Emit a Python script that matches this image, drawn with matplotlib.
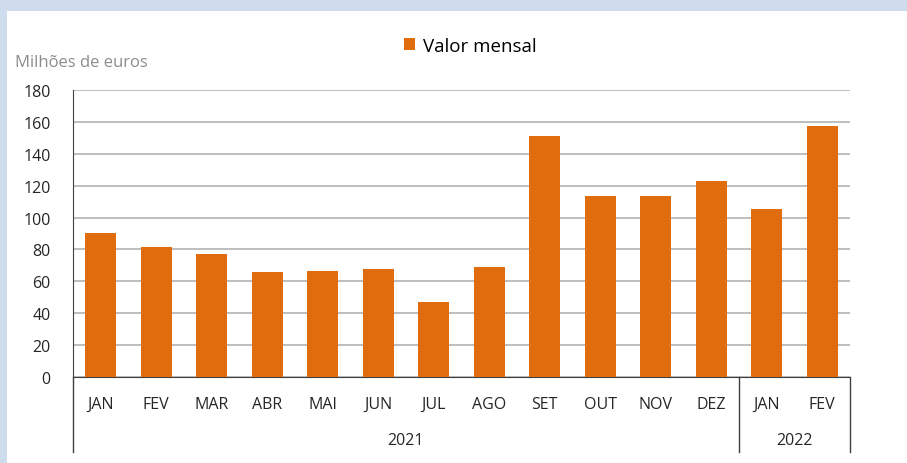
import numpy as np
import matplotlib
matplotlib.use("Agg")
import matplotlib.pyplot as plt
from matplotlib.patches import Rectangle

plt.rcParams["font.family"] = ["Open Sans", "DejaVu Sans"]

# -----------------------------------------------------------------------
# Data
# -----------------------------------------------------------------------
months = ["JAN", "FEV", "MAR", "ABR", "MAI", "JUN", "JUL", "AGO",
          "SET", "OUT", "NOV", "DEZ", "JAN", "FEV"]
values = [90.6, 81.8, 77.4, 66.1, 66.7, 68.0, 47.2, 69.2,
          151.0, 113.3, 113.3, 122.7, 105.1, 157.3]
years = ["2021", "2022"]
year_counts = [12, 2]

BAR_COLOR = "#e06c0e"
GRID_COLOR = "#b3b3b3"
TEXT_COLOR = "#262626"

fig = plt.figure(figsize=(9.07, 4.64), dpi=100)
fig.patch.set_facecolor("#cfdcee")
# white panel behind everything
fig.add_artist(Rectangle((7 / 907, 0), 1, 1 - 12 / 464, transform=fig.transFigure,
                         fc="white", ec="none", zorder=-10))

ax = fig.add_axes([73 / 907, 1 - 378 / 464, 777 / 907, 287 / 464])
ax.set_zorder(5)
ax.patch.set_alpha(0)
x = np.arange(len(months))
ax.bar(x, values, width=0.55, color=BAR_COLOR, label="Valor mensal", zorder=3)

ax.set_xlim(-0.5, len(months) - 0.5)
ax.set_ylim(0, 180)
ax.set_yticks(np.arange(0, 181, 20))
ax.yaxis.grid(True, color=GRID_COLOR, lw=1.2, zorder=0)
ax.set_axisbelow(True)
for s in ["top", "right"]:
    ax.spines[s].set_visible(False)
ax.spines["left"].set_color("#404040")
ax.spines["bottom"].set_color("#404040")
ax.tick_params(axis="y", length=0, pad=16, labelsize=11.5, labelcolor=TEXT_COLOR)
ax.tick_params(axis="x", length=0, pad=13.5, labelsize=11.5, labelcolor=TEXT_COLOR)
ax.set_xticks(x)
ax.set_xticklabels(months)

# year group separators and labels
trans = ax.get_xaxis_transform()
sep_depth = -75 / 287
start = -0.5
for yr, n in zip(years, year_counts):
    ax.plot([start, start], [0, sep_depth], transform=trans, color="#404040",
            lw=1, clip_on=False)
    ax.text(start + n / 2, -63 / 287, yr, transform=trans, ha="center",
            va="center", fontsize=11.5, color=TEXT_COLOR)
    start += n
ax.plot([start, start], [0, sep_depth], transform=trans, color="#404040",
        lw=1, clip_on=False)

fig.text(15 / 907, 1 - 63 / 464, "Milhões de euros", fontsize=12,
         color="#8c8c8c", va="center", ha="left")
fig.legend(loc="center", bbox_to_anchor=(470 / 907, 1 - 47 / 464), frameon=False,
           fontsize=13.5, handlelength=0.6, handleheight=0.6, handletextpad=0.4)

fig.savefig("out.png", dpi=100)
